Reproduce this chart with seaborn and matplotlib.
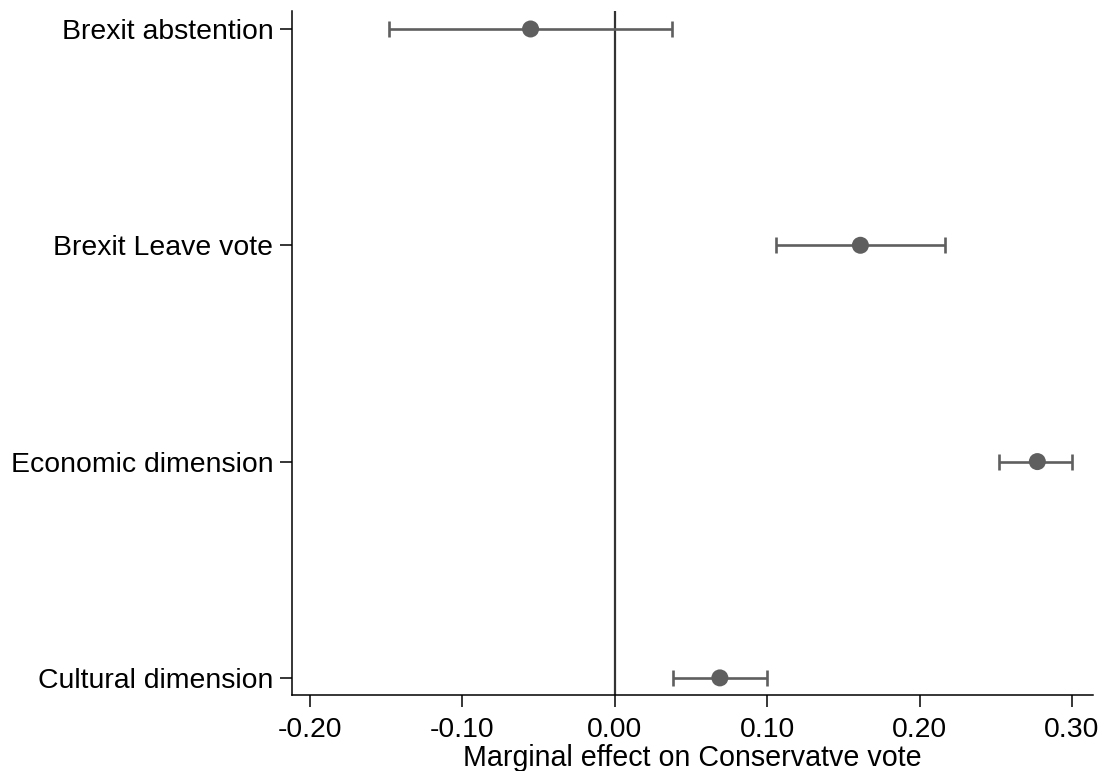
import matplotlib
matplotlib.use("Agg")
import matplotlib.pyplot as plt
import seaborn as sns
import pandas as pd

categories = ["Brexit abstention", "Brexit Leave vote", "Economic dimension", "Cultural dimension"]
estimates = [-0.0552, 0.1612, 0.2773, 0.0690]
ci_low = [-0.1479, 0.1058, 0.2524, 0.0380]
ci_high = [0.0376, 0.2169, 0.3000, 0.1001]
xticks = [-0.20, -0.10, 0.00, 0.10, 0.20, 0.30]
xlabel = "Marginal effect on Conservatve vote"

df = pd.DataFrame({"cat": categories, "est": estimates, "lo": ci_low, "hi": ci_high})

sns.set_style("ticks")
plt.rcParams["font.family"] = ["Liberation Sans", "DejaVu Sans"]
plt.rcParams["text.color"] = "black"
plt.rcParams["axes.labelcolor"] = "black"
plt.rcParams["xtick.color"] = "black"
plt.rcParams["ytick.color"] = "black"

fig = plt.figure(figsize=(11.05, 7.71), dpi=100)
ax = fig.add_axes([0.2643, 0.0986, 0.9894 - 0.2643, 0.9857 - 0.0986])

col = "#5f5f5f"
ax.errorbar(df["est"], df["cat"],
            xerr=[df["est"] - df["lo"], df["hi"] - df["est"]],
            fmt="none", ecolor=col, elinewidth=1.9, capsize=6, capthick=1.9, zorder=2)
sns.scatterplot(data=df, x="est", y="cat", ax=ax, color=col, s=150,
                edgecolor="none", zorder=3, legend=False)
ax.axvline(0, color="#333333", lw=1.6, zorder=1)

ax.set_xlim(-0.2117, 0.3140)
ax.set_ylim(3.079, -0.083)
ax.set_xticks(xticks)
ax.set_xticklabels([f"{t:.2f}" for t in xticks])
ax.set_xlabel(xlabel, fontsize=20.6, labelpad=1, color="black")
ax.set_ylabel("")

ax.tick_params(axis="both", labelsize=20.4, length=8.5, width=1.1, color="black", labelcolor="black")
ax.tick_params(axis="x", pad=7)
ax.tick_params(axis="y", pad=5)
for s in ["top", "right"]:
    ax.spines[s].set_visible(False)
for s in ["left", "bottom"]:
    ax.spines[s].set_color("black")
    ax.spines[s].set_linewidth(1.1)

fig.savefig("out.png", dpi=100)
